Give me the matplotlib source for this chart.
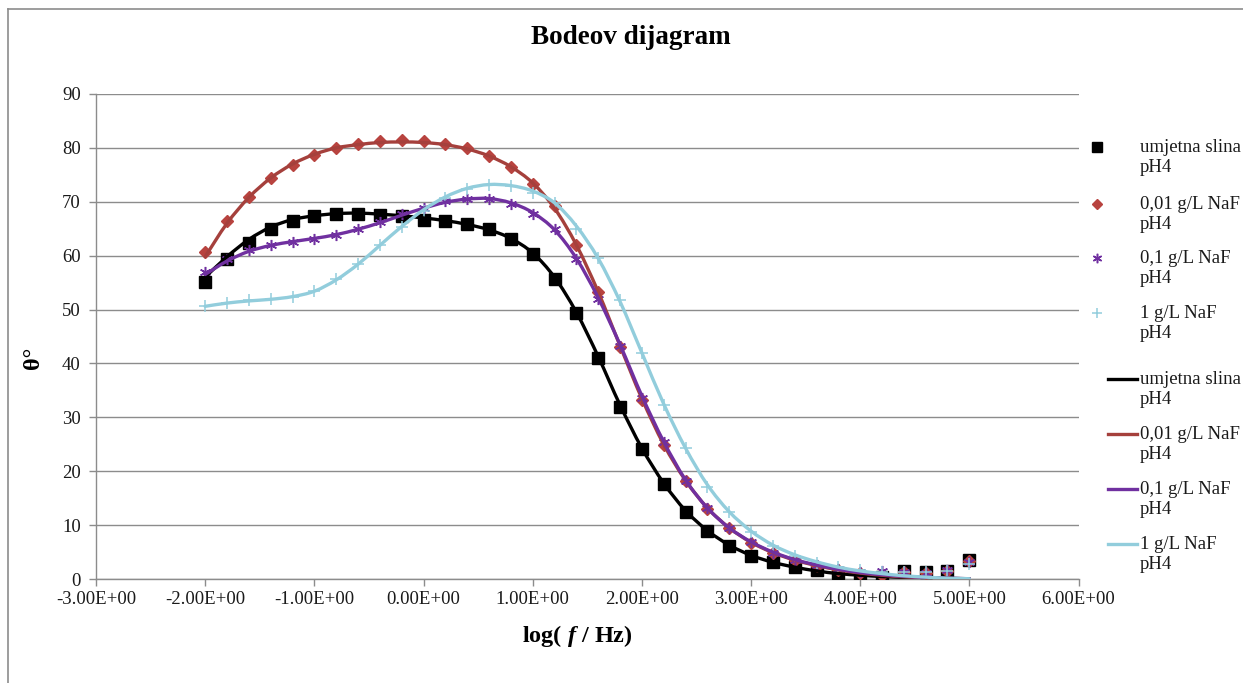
import numpy as np
import matplotlib
matplotlib.use("Agg")
import matplotlib.pyplot as plt
from matplotlib.path import Path
from matplotlib.patches import PathPatch
from matplotlib.lines import Line2D
from matplotlib.ticker import FuncFormatter, MultipleLocator

plt.rcParams['font.family'] = ['Liberation Serif', 'DejaVu Serif']
plt.rcParams['mathtext.fontset'] = 'custom'
plt.rcParams['mathtext.it'] = 'Liberation Serif:bold:italic'
plt.rcParams['mathtext.rm'] = 'Liberation Serif:bold'

# ---- data ----
log_f = [-2.0, -1.8, -1.6, -1.4, -1.2, -1.0, -0.8, -0.6, -0.4, -0.2, 0.0, 0.2,
         0.4, 0.6, 0.8, 1.0, 1.2, 1.4, 1.6, 1.8, 2.0, 2.2, 2.4, 2.6, 2.8, 3.0,
         3.2, 3.4, 3.6, 3.8, 4.0, 4.2, 4.4, 4.6, 4.8, 5.0]

labels = ["umjetna slina\npH4", "0,01 g/L NaF\npH4", "0,1 g/L NaF\npH4", "1 g/L NaF\npH4"]

# measured points (markers)
pts_slina = [55.2, 59.3, 62.4, 65.0, 66.5, 67.4, 67.8, 67.8, 67.6, 67.4, 66.7, 66.5,
             65.9, 65.0, 63.1, 60.4, 55.6, 49.3, 41.1, 32.0, 24.1, 17.6, 12.4, 8.9,
             6.1, 4.3, 3.1, 2.2, 1.7, 1.1, 0.4, 0.4, 1.5, 1.3, 1.5, 3.5]
pts_001 = [60.7, 66.5, 70.9, 74.4, 76.9, 78.7, 80.0, 80.7, 81.3, 81.5, 81.3, 80.7,
           80.0, 78.5, 76.5, 73.3, 69.3, 61.9, 53.3, 43.1, 33.3, 24.8, 18.1, 13.0,
           9.4, 6.7, 4.8, 3.5, 2.4, 1.7, 1.1, 0.7, 1.3, 1.1, 1.5, 3.3]
pts_01 = [57.0, 59.3, 61.0, 61.9, 62.6, 63.1, 63.9, 65.0, 66.3, 67.8, 68.9, 70.2,
          70.6, 70.6, 69.6, 67.8, 65.0, 59.3, 51.9, 43.3, 33.5, 25.4, 18.1, 13.1,
          9.4, 6.9, 4.8, 3.5, 2.6, 1.9, 1.3, 1.5, 1.3, 1.1, 1.7, 3.1]
pts_1 = [50.7, 51.3, 51.7, 51.9, 52.4, 53.5, 55.7, 58.5, 61.9, 65.4, 68.3, 70.7,
         72.4, 73.1, 73.0, 71.7, 69.8, 65.0, 59.6, 51.7, 41.9, 32.2, 24.3, 17.0,
         12.4, 8.7, 6.1, 4.3, 3.0, 2.2, 1.7, 1.3, 1.3, 1.3, 1.5, 2.8]

# fitted model (lines)
fit_slina = [56.0, 59.8, 63.0, 65.3, 66.7, 67.4, 67.8, 67.9, 67.7, 67.4, 67.0, 66.5,
             65.8, 64.8, 63.2, 60.5, 56.0, 49.5, 41.3, 32.3, 24.3, 17.8, 12.7, 9.0,
             6.3, 4.4, 3.1, 2.2, 1.5, 1.0, 0.7, 0.45, 0.3, 0.2, 0.1, 0.05]
fit_001 = [59.8, 66.0, 70.8, 74.4, 77.0, 78.8, 80.0, 80.6, 81.0, 81.1, 81.0, 80.6,
           79.8, 78.5, 76.5, 73.5, 68.8, 62.0, 53.3, 43.3, 33.5, 25.0, 18.3, 13.2,
           9.5, 6.8, 4.9, 3.5, 2.5, 1.7, 1.1, 0.7, 0.4, 0.25, 0.12, 0.05]
fit_01 = [56.5, 59.0, 60.8, 61.9, 62.6, 63.2, 63.9, 64.9, 66.1, 67.5, 68.8, 69.9,
          70.5, 70.6, 69.8, 68.0, 64.8, 59.5, 52.2, 43.5, 34.0, 25.5, 18.4, 13.2,
          9.5, 6.9, 5.0, 3.6, 2.6, 1.8, 1.2, 0.8, 0.5, 0.3, 0.15, 0.05]
fit_1 = [50.6, 51.2, 51.6, 51.9, 52.4, 53.4, 55.5, 58.4, 61.9, 65.4, 68.5, 70.9,
         72.5, 73.2, 73.0, 72.0, 69.8, 65.5, 59.5, 51.5, 42.0, 32.5, 24.3, 17.5,
         12.5, 8.9, 6.3, 4.5, 3.2, 2.2, 1.5, 1.0, 0.6, 0.35, 0.15, 0.05]

pt_series = [pts_slina, pts_001, pts_01, pts_1]
fit_series = [fit_slina, fit_001, fit_01, fit_1]

line_colors = ['#000000', '#A5403C', '#7030A0', '#92CDDC']
marker_colors = ['#000000', '#B8433F', '#7030A0', '#92CDDC']
markers = ['s', 'D', (6, 2, 0), '+']
msizes = [8, 6.2, 8, 8]
mews = [1, 1, 1.1, 1.1]

W, H = 1243, 683
fig = plt.figure(figsize=(W / 100, H / 100), dpi=100)
L, R, T, B = 96, 1078.5, 94, 579
ax = fig.add_axes([L / W, 1 - B / H, (R - L) / W, (B - T) / H])


def smooth_path(xs, ys):
    xs = np.asarray(xs, float)
    ys = np.asarray(ys, float)
    P = np.column_stack([xs, ys])
    n = len(P)
    verts = [P[0]]
    codes = [Path.MOVETO]
    for i in range(n - 1):
        p0 = P[i - 1] if i > 0 else P[i]
        p1 = P[i]
        p2 = P[i + 1]
        p3 = P[i + 2] if i + 2 < n else P[i + 1]
        c1 = p1 + (p2 - p0) / 6.0
        c2 = p2 - (p3 - p1) / 6.0
        verts += [c1, c2, p2]
        codes += [Path.CURVE4] * 3
    return Path(verts, codes)


# markers
for ys, c, m, s, mw in zip(pt_series, marker_colors, markers, msizes, mews):
    ax.plot(log_f, ys, linestyle='none', marker=m, color=c, markersize=s,
            markeredgewidth=mw, zorder=3)
# smooth lines
for ys, c in zip(fit_series, line_colors):
    ax.add_patch(PathPatch(smooth_path(log_f, ys), fill=False, edgecolor=c,
                           linewidth=2.4, zorder=4, capstyle='round'))

ax.set_xlim(-3, 6)
ax.set_ylim(0, 90)
ax.xaxis.set_major_locator(MultipleLocator(1))
ax.yaxis.set_major_locator(MultipleLocator(10))
ax.xaxis.set_major_formatter(FuncFormatter(lambda v, p: '%.2E' % v))
ax.yaxis.set_major_formatter(FuncFormatter(lambda v, p: '%d' % round(v)))
ax.grid(axis='y', color='#8C8C8C', linewidth=1.0)
ax.set_axisbelow(True)
for s in ['top', 'right']:
    ax.spines[s].set_visible(False)
for s in ['left', 'bottom']:
    ax.spines[s].set_color('#8C8C8C')
    ax.spines[s].set_linewidth(1.0)
ax.tick_params(axis='both', colors='#8C8C8C', labelcolor='#1a1a1a',
               labelsize=13.5, length=5, width=1, direction='out')
ax.tick_params(axis='x', pad=4)
ax.tick_params(axis='y', pad=6)

fig.text(631 / W, 1 - 38 / H, 'Bodeov dijagram', ha='center', va='center',
         fontsize=19.5, fontweight='bold')
fig.text(577 / W, 1 - 636 / H, r'log( $\mathit{f}$ / Hz)', ha='center', va='center',
         fontsize=17.5, fontweight='bold')
fig.text(34 / W, 1 - 358 / H, 'θ°', ha='center', va='center', rotation=90,
         fontsize=17.5, fontweight='bold')

# legend (manual layout)
entry_y = [147, 204, 258, 313, 379, 434, 489, 544]
for i in range(8):
    y = entry_y[i]
    yf = 1 - y / H
    k = i % 4
    if i < 4:
        fig.add_artist(Line2D([1097 / W], [yf], linestyle='none', marker=markers[k],
                              color=marker_colors[k], markersize=msizes[k] * 0.85,
                              markeredgewidth=mews[k], transform=fig.transFigure))
    else:
        fig.add_artist(Line2D([1108 / W, 1137 / W], [yf, yf], color=line_colors[k],
                              linewidth=2.4, transform=fig.transFigure))
    fig.text(1140 / W, 1 - (y - 8) / H, labels[k], ha='left', va='top',
             fontsize=13.5, linespacing=1.25, color='#1a1a1a')

# chart border
fig.add_artist(Line2D([8 / W, 8 / W], [0, 1 - 9 / H], color='#8C8C8C', linewidth=1.2,
                      transform=fig.transFigure))
fig.add_artist(Line2D([8 / W, 1], [1 - 9 / H, 1 - 9 / H], color='#8C8C8C', linewidth=1.2,
                      transform=fig.transFigure))

fig.savefig('out.png', dpi=100, facecolor='white')
